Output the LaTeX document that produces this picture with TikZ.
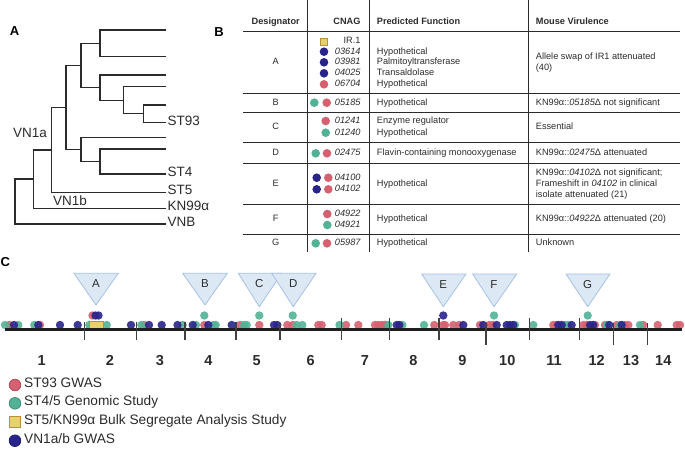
\documentclass[tikz,border=0pt]{standalone}
\usepackage{fontspec}
\setmainfont{Liberation Sans}
\usepackage{xcolor}

\definecolor{gwasred}{HTML}{D6606F}
\definecolor{stgreen}{HTML}{52B296}
\definecolor{vnblue}{HTML}{29248C}
\definecolor{bsayellow}{HTML}{E2D270}
\definecolor{bsaedge}{HTML}{B88F3C}
\definecolor{locfill}{HTML}{DDE8F5}
\definecolor{locedge}{HTML}{A6C2E2}
\definecolor{inkgray}{HTML}{2B2B2B}

\tikzset{
  branch/.style={line width=1.1pt, draw=inkgray},
  leaflab/.style={anchor=mid west, inner sep=0pt, font=\fontsize{13.5}{15}\selectfont, text=inkgray},
  cladelab/.style={anchor=mid, inner sep=0pt, font=\fontsize{13.5}{15}\selectfont, text=inkgray},
  panel/.style={anchor=mid, inner sep=0pt, font=\fontsize{13}{15}\selectfont\bfseries},
  hdr/.style={inner sep=0pt, font=\fontsize{9.2}{11}\selectfont\bfseries, text=inkgray},
  cell/.style={inner sep=0pt, font=\fontsize{9.2}{11}\selectfont, text=inkgray},
  rule/.style={line width=0.9pt, draw=inkgray},
  reddot/.style={fill=gwasred, opacity=0.9},
  greendot/.style={fill=stgreen, opacity=0.9},
  bluedot/.style={fill=vnblue, opacity=0.9},
  bsabox/.style={fill=bsayellow, draw=bsaedge, line width=0.9pt},
  locus/.style={fill=locfill, draw=locedge, line width=0.8pt},
  loclab/.style={anchor=mid, inner sep=0pt, font=\fontsize{11.5}{13}\selectfont, text=inkgray},
  chrom/.style={line width=3.3pt, draw=black!88},
  tick/.style={line width=1.3pt, draw=black!75},
  chrnum/.style={anchor=mid, inner sep=0pt, font=\fontsize{14.5}{16}\selectfont\bfseries, text=inkgray},
  legtext/.style={anchor=mid west, inner sep=0pt, font=\fontsize{13.7}{15}\selectfont, text=inkgray}
}

\begin{document}
\begin{tikzpicture}[x=1pt,y=-1pt]
\useasboundingbox (0,0) rectangle (685,448);

% panel A: tree
\node[panel] (pA) at (14.5,33.3) {A};
\coordinate (l1) at (166,30);
\coordinate (l2) at (166,56.7);
\coordinate (l3) at (166,75);
\coordinate (l4) at (166,86.7);
\coordinate (l5) at (166,105);
\coordinate (l6) at (166,122.7);
\coordinate (l7) at (166,137.3);
\coordinate (l8) at (166,149);
\coordinate (l9) at (166,174);
\coordinate (l10) at (166,192.3);
\coordinate (l11) at (166,208.3);
\coordinate (l12) at (166,224);
\coordinate (n12) at (100,43.3);
\coordinate (n56) at (143.3,113.8);
\coordinate (n46) at (123.3,100.2);
\coordinate (n36) at (100,87.6);
\coordinate (n16) at (81,65.5);
\coordinate (n89) at (100,161.5);
\coordinate (n79) at (81,149.4);
\coordinate (n19) at (66,107.5);
\coordinate (n110) at (51.7,150);
\coordinate (n111) at (33.3,179);
\coordinate (root) at (15,201.5);
\draw[branch] (l1) -| (n12) |- (l2);
\draw[branch] (l5) -| (n56) |- (l6);
\draw[branch] (l4) -| (n46) |- (n56);
\draw[branch] (l3) -| (n36) |- (n46);
\draw[branch] (n12) -| (n16) |- (n36);
\draw[branch] (l8) -| (n89) |- (l9);
\draw[branch] (l7) -| (n79) |- (n89);
\draw[branch] (n16) -| (n19) |- (n79);
\draw[branch] (n19) -| (n110) |- (l10);
\draw[branch] (n110) -| (n111) |- (l11);
\draw[branch] (n111) -| (root) |- (l12);
\node[leaflab] (st93) at (167.5,122.7) {ST93};
\node[leaflab] (st4) at (167.5,174) {ST4};
\node[leaflab] (st5) at (167.5,192.3) {ST5};
\node[leaflab] (kn99) at (167.5,208.3) {KN99α};
\node[leaflab] (vnb) at (167.5,224) {VNB};
\node[cladelab] (vn1a) at (30,135) {VN1a};
\node[cladelab] (vn1b) at (70,202.7) {VN1b};

% panel B: table
\node[panel] (pB) at (219,34) {B};
\draw[rule] (307.3,0) -- (307.3,251.7);
\draw[rule] (369,0) -- (369,251.7);
\draw[rule] (528.3,0) -- (528.3,251.7);
\foreach \y in {31,93.3,112.7,142,163.3,204,234.3}
  \draw[rule] (243.3,\y) -- (680,\y);
\node[hdr, anchor=mid] (hdes) at (275.7,21.7) {Designator};
\node[hdr, anchor=mid east] (hcnag) at (360.7,21.7) {CNAG};
\node[hdr, anchor=mid west] (hfun) at (376.7,21.7) {Predicted Function};
\node[hdr, anchor=mid west] (hvir) at (535.7,21.7) {Mouse Virulence};

% row A
\node[cell, anchor=mid] (dA) at (275.7,62.3) {A};
\filldraw[bsabox] (320.4,38.4) rectangle (327,45);
\fill[vnblue] (324,51.7) circle (4.3pt);
\fill[vnblue] (324,62.3) circle (4.3pt);
\fill[vnblue] (324,73.3) circle (4.3pt);
\fill[gwasred] (324,84.3) circle (4.3pt);
\node[cell, anchor=mid east] (ir1) at (360.7,40.7) {IR.1};
\node[cell, anchor=mid east] (c03614) at (360.7,51.7) {\itshape 03614};
\node[cell, anchor=mid east] (c03981) at (360.7,62.3) {\itshape 03981};
\node[cell, anchor=mid east] (c04025) at (360.7,73.3) {\itshape 04025};
\node[cell, anchor=mid east] (c06704) at (360.7,84.3) {\itshape 06704};
\node[cell, anchor=mid west] (f03614) at (376.7,51.7) {Hypothetical};
\node[cell, anchor=mid west] (f03981) at (376.7,62.3) {Palmitoyltransferase};
\node[cell, anchor=mid west] (f04025) at (376.7,73.3) {Transaldolase};
\node[cell, anchor=mid west] (f06704) at (376.7,84.3) {Hypothetical};
\node[cell, anchor=mid west] (vA1) at (535.7,56.7) {Allele swap of IR1 attenuated};
\node[cell, anchor=mid west] (vA2) at (535.7,68.3) {(40)};

% row B
\node[cell, anchor=mid] (dB) at (275.7,102.7) {B};
\fill[stgreen] (314.3,102.7) circle (4.3pt);
\fill[gwasred] (326.7,102.7) circle (4.3pt);
\node[cell, anchor=mid east] (c05185) at (360.7,102.7) {\itshape 05185};
\node[cell, anchor=mid west] (f05185) at (376.7,102.7) {Hypothetical};
\node[cell, anchor=mid west] (vB) at (535.7,102.7) {KN99α::\textit{05185}Δ not significant};

% row C
\node[cell, anchor=mid] (dC) at (275.7,127) {C};
\fill[gwasred] (325.7,121) circle (4.3pt);
\fill[stgreen] (325.7,132.7) circle (4.3pt);
\node[cell, anchor=mid east] (c01241) at (360.7,121) {\itshape 01241};
\node[cell, anchor=mid east] (c01240) at (360.7,132.7) {\itshape 01240};
\node[cell, anchor=mid west] (f01241) at (376.7,121) {Enzyme regulator};
\node[cell, anchor=mid west] (f01240) at (376.7,132.7) {Hypothetical};
\node[cell, anchor=mid west] (vC) at (535.7,127) {Essential};

% row D
\node[cell, anchor=mid] (dD) at (275.7,153.3) {D};
\fill[stgreen] (315.7,153.3) circle (4.3pt);
\fill[gwasred] (327,153.3) circle (4.3pt);
\node[cell, anchor=mid east] (c02475) at (360.7,153.3) {\itshape 02475};
\node[cell, anchor=mid west] (f02475) at (376.7,153.3) {Flavin-containing monooxygenase};
\node[cell, anchor=mid west] (vD) at (535.7,153.3) {KN99α::\textit{02475}Δ attenuated};

% row E
\node[cell, anchor=mid] (dE) at (275.7,184) {E};
\fill[vnblue] (316.7,177.7) circle (4.3pt);
\fill[gwasred] (328.3,177.7) circle (4.3pt);
\fill[vnblue] (316.7,189.3) circle (4.3pt);
\fill[gwasred] (328.3,189.3) circle (4.3pt);
\node[cell, anchor=mid east] (c04100) at (360.7,177.7) {\itshape 04100};
\node[cell, anchor=mid east] (c04102) at (360.7,189.3) {\itshape 04102};
\node[cell, anchor=mid west] (f04100) at (376.7,184) {Hypothetical};
\node[cell, anchor=mid west] (vE1) at (535.7,173.3) {KN99α::\textit{04102}Δ not significant;};
\node[cell, anchor=mid west] (vE2) at (535.7,184.3) {Frameshift in \textit{04102} in clinical};
\node[cell, anchor=mid west] (vE3) at (535.7,195) {isolate attenuated (21)};

% row F
\node[cell, anchor=mid] (dF) at (275.7,219.3) {F};
\fill[gwasred] (327.3,214) circle (4.3pt);
\fill[stgreen] (327.3,225) circle (4.3pt);
\node[cell, anchor=mid east] (c04922) at (360.7,214) {\itshape 04922};
\node[cell, anchor=mid east] (c04921) at (360.7,225) {\itshape 04921};
\node[cell, anchor=mid west] (f04922) at (376.7,219.3) {Hypothetical};
\node[cell, anchor=mid west] (vF) at (535.7,219.3) {KN99α::\textit{04922}Δ attenuated (20)};

% row G
\node[cell, anchor=mid] (dG) at (275.7,243.3) {G};
\fill[stgreen] (315.7,243.3) circle (4.3pt);
\fill[gwasred] (327,243.3) circle (4.3pt);
\node[cell, anchor=mid east] (c05987) at (360.7,243.3) {\itshape 05987};
\node[cell, anchor=mid west] (f05987) at (376.7,243.3) {Hypothetical};
\node[cell, anchor=mid west] (vG) at (535.7,243.3) {Unknown};

% panel C: genome
\node[panel, anchor=mid west] (pC) at (0.5,264) {C};
\filldraw[locus] (74,273.3) -- (118.3,273.3) -- (96,305) -- cycle;
\filldraw[locus] (182.7,273.3) -- (227.3,273.3) -- (205,305) -- cycle;
\filldraw[locus] (238.3,273.3) -- (281.7,273.3) -- (259.3,306.7) -- cycle;
\filldraw[locus] (271.7,273.3) -- (316,273.3) -- (293.3,306.7) -- cycle;
\filldraw[locus] (421.7,274) -- (466,274) -- (443.3,306.7) -- cycle;
\filldraw[locus] (472.7,274) -- (516.7,274) -- (494,306.7) -- cycle;
\filldraw[locus] (566,274) -- (610,274) -- (587.7,306.7) -- cycle;
\node[loclab] (locA) at (96,285) {A};
\node[loclab] (locB) at (205,285) {B};
\node[loclab] (locC) at (259.3,285) {C};
\node[loclab] (locD) at (293.3,285) {D};
\node[loclab] (locE) at (443.3,286) {E};
\node[loclab] (locF) at (494,286) {F};
\node[loclab] (locG) at (587.7,286) {G};

\foreach \x in {9.3,40,144,204.3,240,259.3,287.3,292.7,318.3,321.7,346,358.3,375,378.3,381.7,384.3,386.7,434.3,443.3,445,453.3,459,480,489.3,492.7,553.3,556.7,583.3,586.7,595,605,616.7,625,628.3,643.3,657.7,676.7,680}
  \fill[reddot] (\x,325) circle (4.2pt);
\foreach \x in {5,18.3,34.3,89.3,106.7,141.3,182.7,196,213.3,215.7,244,246.7,296.7,302.3,339.5,388.3,402.3,424,515,533.3,565,568.3,606.7,620,640}
  \fill[greendot] (\x,325) circle (4.2pt);
\foreach \x in {14,38.3,60,77.7,131,149,161.7,177.5,192.7,208.3,231.7,274,277.3,396.7,399.3,463.3,483.3,496.7,506.7,510,513.3,558.3,561.7,571.7,590,593.3,609.3,621.7}
  \fill[bluedot] (\x,325) circle (4.2pt);
\foreach \x in {204.3,259.3,292.7,494,587.7}
  \fill[greendot] (\x,315.5) circle (4.2pt);
\fill[reddot] (92.5,315.5) circle (4.2pt);
\fill[bluedot] (95.5,315.5) circle (4.2pt);
\fill[bluedot] (98.5,315.5) circle (4.2pt);
\fill[bluedot] (443.3,315.5) circle (4.2pt);
\filldraw[bsabox] (89.3,321.7) rectangle (103.3,328.3);

\coordinate (chrL) at (5,329.3);
\coordinate (chrR) at (681.7,329.3);
\draw[chrom] (chrL) -- (chrR);
\foreach \x/\a/\b in {84.3/321.7/340,136.7/321.7/340,185/321.7/340,236/321.7/340,280/322.5/340,341.7/318/340,389.3/318/340,439/318/340,486/323/345,529.3/318/340,579.3/318/340,613.3/323/345,647.3/323/345}
  \draw[tick] (\x,\a) -- (\x,\b);

\node[chrnum] (chr1) at (41.7,363.3) {1};
\node[chrnum] (chr2) at (110,363.3) {2};
\node[chrnum] (chr3) at (160,363.3) {3};
\node[chrnum] (chr4) at (208.3,363.3) {4};
\node[chrnum] (chr5) at (256.7,363.3) {5};
\node[chrnum] (chr6) at (310.7,363.3) {6};
\node[chrnum] (chr7) at (365,363.3) {7};
\node[chrnum] (chr8) at (413.3,363.3) {8};
\node[chrnum] (chr9) at (462.3,363.3) {9};
\node[chrnum] (chr10) at (507.3,363.3) {10};
\node[chrnum] (chr11) at (554,363.3) {11};
\node[chrnum] (chr12) at (596.7,363.3) {12};
\node[chrnum] (chr13) at (631,363.3) {13};
\node[chrnum] (chr14) at (663.3,363.3) {14};

% legend
\filldraw[fill=gwasred, draw=gwasred!80!black, line width=0.8pt] (15,385) circle (5.8pt);
\filldraw[fill=stgreen, draw=stgreen!80!black, line width=0.8pt] (15,403.3) circle (5.8pt);
\filldraw[bsabox] (9.3,416) rectangle (20.7,427.4);
\filldraw[fill=vnblue, draw=vnblue!80!black, line width=0.8pt] (15,440.7) circle (5.8pt);
\node[legtext] (legred) at (24,385) {ST93 GWAS};
\node[legtext] (leggreen) at (24,403.3) {ST4/5 Genomic Study};
\node[legtext] (legbsa) at (24,421.7) {ST5/KN99α Bulk Segregate Analysis Study};
\node[legtext] (legblue) at (24,440.7) {VN1a/b GWAS};
\end{tikzpicture}
\end{document}
